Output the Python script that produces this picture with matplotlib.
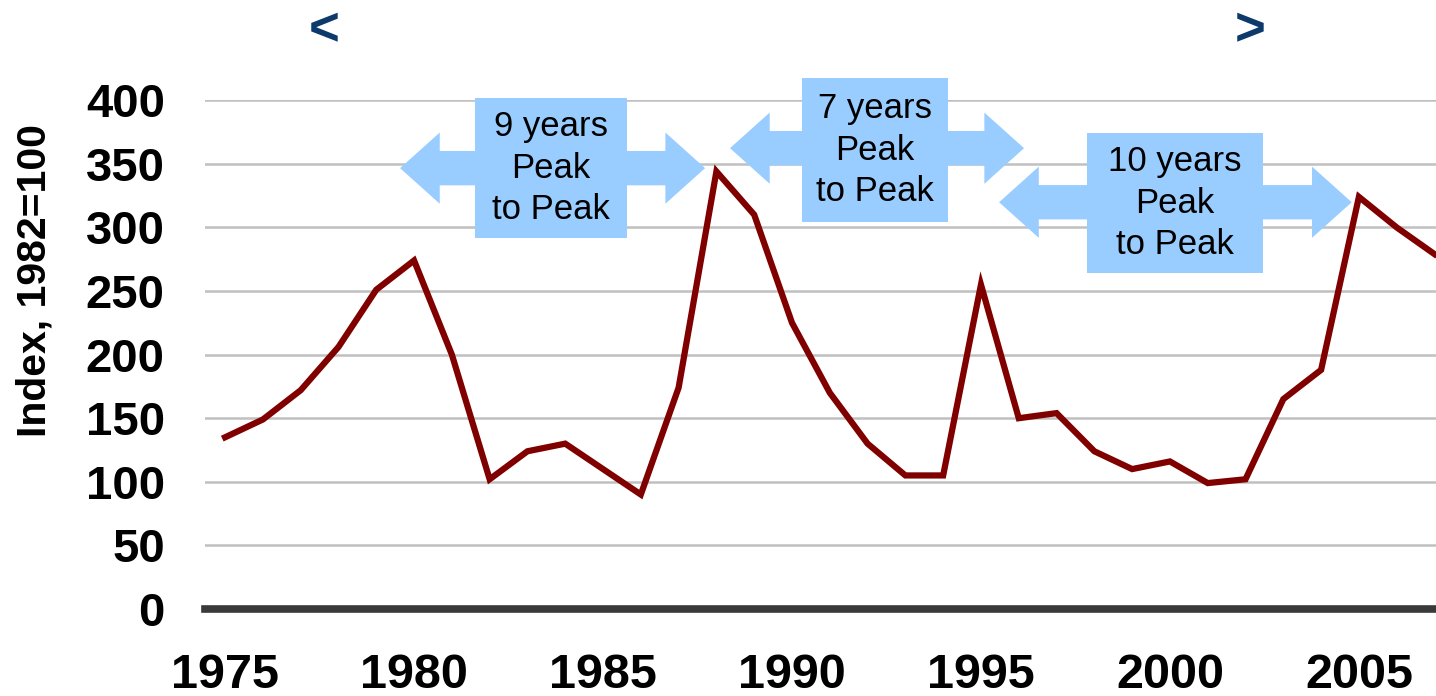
import matplotlib
matplotlib.use("Agg")
import matplotlib.pyplot as plt
from matplotlib.patches import Polygon, Rectangle

plt.rcParams['font.family'] = ['Liberation Sans', 'DejaVu Sans']

# ---- data ----
years = list(range(1975, 2008))
index_values = [135, 149, 172, 206, 251, 274, 200, 102, 124, 130, 110, 90, 174,
                344, 310, 225, 170, 130, 105, 105, 255, 150, 154, 124, 110, 116,
                99, 102, 165, 188, 324, 300, 279]
x_ticks = [1975, 1980, 1985, 1990, 1995, 2000, 2005]
y_ticks = [0, 50, 100, 150, 200, 250, 300, 350, 400]

# annotation arrows (double-headed block arrows with label boxes)
arrow_x0 = [1979.63, 1988.36, 1995.48]
arrow_x1 = [1987.70, 1996.14, 2004.81]
arrow_yc = [346.6, 362.3, 319.8]
box_x0 = [1981.61, 1990.26, 1997.80]
box_x1 = [1985.63, 1994.13, 2002.46]
box_y0 = [291.5, 304.1, 264.0]
box_y1 = [401.6, 417.3, 374.1]
box_labels = ["9 years\nPeak\nto Peak", "7 years\nPeak\nto Peak", "10 years\nPeak\nto Peak"]

fig = plt.figure(figsize=(14.36, 6.96), dpi=100)
ax = fig.add_axes([0.1428, 0.125, 0.8572, 0.731])

blue = '#99ccff'
shaft_half = 13.5
head_half = 28.0
head_len = 1.05

for x0, x1, yc in zip(arrow_x0, arrow_x1, arrow_yc):
    verts = [(x0, yc), (x0 + head_len, yc + head_half), (x0 + head_len, yc + shaft_half),
             (x1 - head_len, yc + shaft_half), (x1 - head_len, yc + head_half), (x1, yc),
             (x1 - head_len, yc - head_half), (x1 - head_len, yc - shaft_half),
             (x0 + head_len, yc - shaft_half), (x0 + head_len, yc - head_half)]
    ax.add_patch(Polygon(verts, closed=True, facecolor=blue, edgecolor='none',
                         zorder=3, clip_on=False))

for bx0, bx1, by0, by1, lab in zip(box_x0, box_x1, box_y0, box_y1, box_labels):
    ax.add_patch(Rectangle((bx0, by0), bx1 - bx0, by1 - by0, facecolor=blue,
                           edgecolor='none', zorder=3, clip_on=False))
    ax.text((bx0 + bx1) / 2, (by0 + by1) / 2, lab, ha='center', va='center',
            fontsize=25, color='black', linespacing=1.32, zorder=4)

ax.plot(years, index_values, color='#800000', lw=4.5, zorder=5, solid_joinstyle='miter')

ax.set_xlim(1974.47, 2007.04)
ax.set_ylim(0, 400)
ax.set_xticks(x_ticks)
ax.set_yticks(y_ticks)
ax.set_xticklabels([str(t) for t in x_ticks], fontsize=35, fontweight='bold')
ax.set_yticklabels([str(t) for t in y_ticks], fontsize=34, fontweight='bold')
ax.tick_params(axis='x', length=0, pad=32)
ax.tick_params(axis='y', length=0, pad=29)

for v in y_ticks[1:]:
    ax.axhline(v, color='#c0c0c0', lw=1.8, zorder=1)
ax.axhline(0, color='#3a3a3a', lw=5.5, zorder=2, clip_on=False)

for s in ax.spines.values():
    s.set_visible(False)

fig.text(0.024, 0.597, "Index, 1982=100", rotation=90, ha='center', va='center',
         fontsize=29.5, fontweight='bold')

fig.text(0.2256, 0.955, "<", ha='center', va='center', fontsize=38, fontweight='bold',
         color='#0d3a6b')
fig.text(0.8705, 0.955, ">", ha='center', va='center', fontsize=38, fontweight='bold',
         color='#0d3a6b')

fig.savefig("out.png", dpi=100)
